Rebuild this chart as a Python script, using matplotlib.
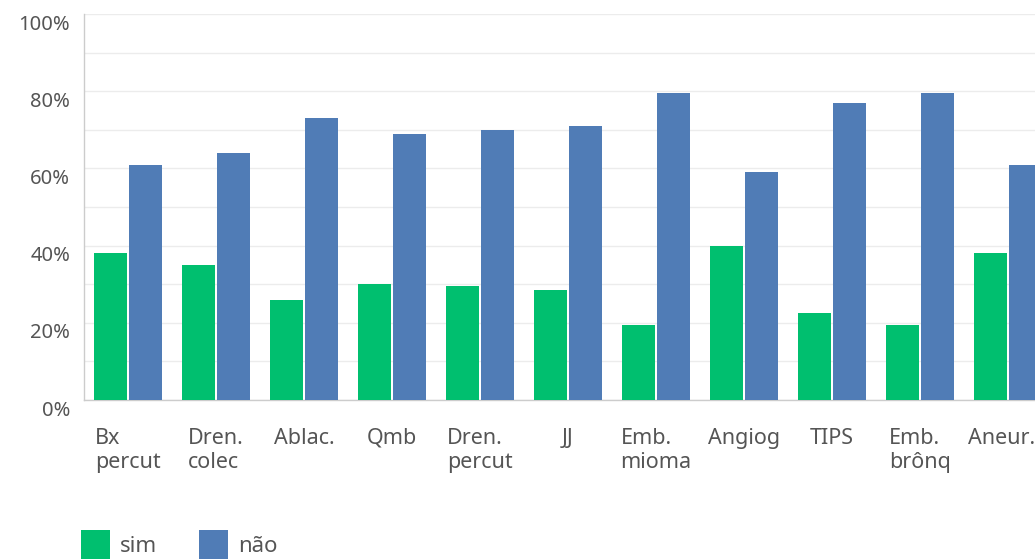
import numpy as np
import matplotlib
matplotlib.use('Agg')
import matplotlib.pyplot as plt
from matplotlib.patches import Patch
from matplotlib.transforms import ScaledTranslation

categories = ['Bx\npercut', 'Dren.\ncolec', 'Ablac.', 'Qmb', 'Dren.\npercut', 'JJ',
              'Emb.\nmioma', 'Angiog', 'TIPS', 'Emb.\nbrônq', 'Aneur.']
sim = [38, 35, 26, 30, 29.5, 28.5, 19.5, 40, 22.5, 19.5, 38]
nao = [61, 64, 73, 69, 70, 71, 79.5, 59, 77, 79.5, 61]
yticks = [0, 20, 40, 60, 80, 100]

GREEN = '#00BF6F'
BLUE = '#507CB6'
TXT = '#555555'

plt.rcParams['font.family'] = ['Noto Sans', 'DejaVu Sans']

fig = plt.figure(figsize=(10.35, 5.6), dpi=100)
# axes runs a bit past the right edge, like the cropped original
ax = fig.add_axes([84/1035, 1 - 400/560, 968/1035, 386/560])

x = np.arange(len(categories))
w = 0.375
ax.bar(x - 0.2, sim, w, color=GREEN, zorder=3)
ax.bar(x + 0.2, nao, w, color=BLUE, zorder=3)

ax.set_xlim(-0.5, len(categories) - 0.5)
ax.set_ylim(0, 100)
ax.set_yticks(yticks)
ax.set_yticklabels(['%d%%' % v for v in yticks])
ax.set_yticks(np.arange(10, 100, 10), minor=True)
ax.grid(axis='y', which='both', color='#ececec', lw=1, zorder=0)
ax.tick_params(axis='y', which='both', length=0, pad=10, labelsize=14.5, labelcolor=TXT)
ax.tick_params(axis='x', length=0, pad=20, labelsize=15.5, labelcolor=TXT)
ax.set_xticks(x)
ax.set_xticklabels(categories, multialignment='left')

# y labels sit slightly below their gridlines
for lab in ax.get_yticklabels():
    lab.set_transform(lab.get_transform() + ScaledTranslation(0, -0.08, fig.dpi_scale_trans))
# last x label kept inside the crop
xlabs = ax.get_xticklabels()
xlabs[-1].set_transform(xlabs[-1].get_transform() + ScaledTranslation(-0.06, 0, fig.dpi_scale_trans))

for s in ['top', 'right']:
    ax.spines[s].set_visible(False)
for s in ['left', 'bottom']:
    ax.spines[s].set_color('#cccccc')
    ax.spines[s].set_linewidth(1)

handles = [Patch(facecolor=GREEN, label='sim'), Patch(facecolor=BLUE, label='não')]
fig.legend(handles=handles, loc='upper left', bbox_to_anchor=(81/1035, 1 - 530/560),
           ncol=2, frameon=False, fontsize=16, labelcolor=TXT,
           handlelength=1.3, handleheight=1.6, handletextpad=0.45, columnspacing=1.9,
           borderpad=0, borderaxespad=0)

fig.savefig('out.png', dpi=100)
